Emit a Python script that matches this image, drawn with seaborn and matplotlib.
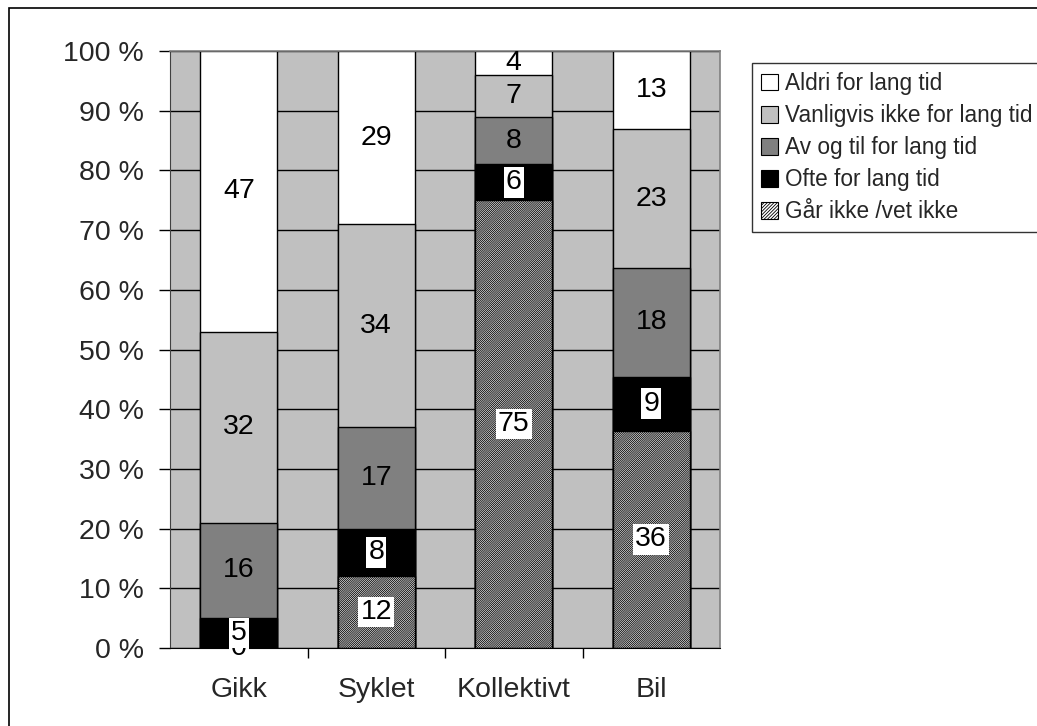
import matplotlib
matplotlib.use("Agg")
import matplotlib.pyplot as plt
import seaborn as sns
import numpy as np
import pandas as pd
from matplotlib.patches import Rectangle, Patch

sns.set_style("white")
plt.rcParams['font.family'] = ['Liberation Sans', 'DejaVu Sans']
plt.rcParams['hatch.linewidth'] = 0.6

categories = ["Gikk", "Syklet", "Kollektivt", "Bil"]
series_names = ["Går ikke /vet ikke", "Ofte for lang tid", "Av og til for lang tid",
                "Vanligvis ikke for lang tid", "Aldri for lang tid"]
gar_ikke = [0, 12, 75, 36]
ofte = [5, 8, 6, 9]
av_og_til = [16, 17, 8, 18]
vanligvis = [32, 34, 7, 23]
aldri = [47, 29, 4, 13]
yticks = [0, 10, 20, 30, 40, 50, 60, 70, 80, 90, 100]
ytick_labels = ["0 %", "10 %", "20 %", "30 %", "40 %", "50 %", "60 %", "70 %", "80 %", "90 %", "100 %"]

colors = ["white", "black", "#808080", "#C0C0C0", "white"]
hatches = ["/" * 16, None, None, None, None]
label_bg = [True, True, False, False, False]

vals = np.array([gar_ikke, ofte, av_og_til, vanligvis, aldri], dtype=float)
totals = vals.sum(axis=0)
pct = vals / totals * 100
cum = np.cumsum(pct, axis=0)

fig = plt.figure(figsize=(10.37, 7.26), dpi=100)
W, H = 1037, 726
ax = fig.add_axes([170 / W, 1 - 648 / H, (720 - 170) / W, (648 - 51) / H])
ax.set_facecolor("#C0C0C0")

FS = 20.5

# draw from the top layer down so lower layers overlay
for i in range(len(series_names) - 1, -1, -1):
    df = pd.DataFrame({"cat": categories, "val": cum[i]})
    sns.barplot(data=df, x="cat", y="val", ax=ax, color=colors[i], width=0.557,
                edgecolor="black", linewidth=1.0, saturation=1, zorder=2)
    if hatches[i]:
        for p in ax.patches[-len(categories):]:
            p.set_hatch(hatches[i])
            p.set_facecolor("white")

ax.set_ylim(0, 100)
ax.set_xlim(-0.5, 3.5)
ax.set_yticks(yticks)
ax.set_yticklabels(ytick_labels)
ax.yaxis.grid(True, color="black", linewidth=1.0, zorder=0)
ax.set_axisbelow(True)
ax.set_xlabel("")
ax.set_ylabel("")

ax.tick_params(axis="y", which="major", left=True, length=8, width=1, pad=11,
               labelsize=FS, color="black")
ax.tick_params(axis="x", which="major", bottom=True, length=0, pad=21, labelsize=FS)
ax.set_xticks([0.5, 1.5, 2.5], minor=True)
ax.tick_params(axis="x", which="minor", bottom=True, length=7, width=1, color="black")

for side in ["top", "right"]:
    ax.spines[side].set_color("#808080")
    ax.spines[side].set_linewidth(1.2)
ax.spines["left"].set_color("#404040")
ax.spines["bottom"].set_color("black")
for s in ax.spines.values():
    s.set_zorder(5)

# value labels
for i in range(len(series_names)):
    for j, c in enumerate(categories):
        v = vals[i, j]
        y = cum[i, j] - pct[i, j] / 2
        kw = dict(ha="center", va="center", fontsize=FS, color="black", zorder=6 + i)
        if label_bg[i]:
            kw["bbox"] = dict(boxstyle="square,pad=0.08", facecolor="white", edgecolor="none")
        ax.text(j, y, f"{int(v)}", clip_on=False, **kw)

handles = [Patch(facecolor=colors[i], edgecolor="black", hatch=("/" * 10 if hatches[i] else None),
                 linewidth=0.8, label=series_names[i]) for i in range(len(series_names) - 1, -1, -1)]
leg = fig.legend(handles=handles, loc="upper left", bbox_to_anchor=(752 / W, 1 - 63 / H),
                 frameon=True, fancybox=False, fontsize=16.3, handlelength=0.75, handleheight=0.75,
                 handletextpad=0.3, labelspacing=0.4, borderpad=0.4, borderaxespad=0,
                 edgecolor="black")
leg.get_frame().set_linewidth(1.0)

fig.patches.append(Rectangle((9 / W, -0.1), 1.2, 1.1 - 8 / H, transform=fig.transFigure,
                             fill=False, edgecolor="black", linewidth=1.2))

fig.savefig("out.png", dpi=100)
